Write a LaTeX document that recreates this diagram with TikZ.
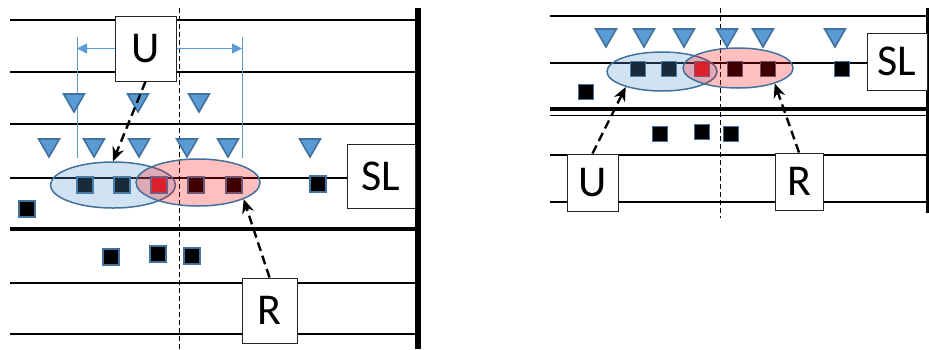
\documentclass[tikz,border=0pt]{standalone}
\usepackage{fontspec}
\setmainfont{Carlito}
\usetikzlibrary{shapes.geometric,arrows.meta}
\definecolor{cellblue}{HTML}{5B9BD5}
\definecolor{celledge}{HTML}{41719C}

\begin{document}
\begin{tikzpicture}[x=0.5pt,y=-0.5pt,
    lane/.style={line width=1pt},
    mid/.style={line width=0.5pt, dash pattern=on 2.5pt off 1.5pt},
    tag/.style={draw=black!85, line width=0.5pt, fill=white, inner sep=0pt,
      font=\fontsize{22pt}{22pt}\selectfont},
    bs/.style={regular polygon, regular polygon sides=3, shape border rotate=180,
      draw=celledge, fill=cellblue, line width=0.8pt, minimum size=12pt, inner sep=0pt},
    ue/.style={draw=celledge, fill=black, line width=0.75pt, minimum size=8pt, inner sep=0pt},
    zone/.style={ellipse, draw=celledge, line width=0.75pt, inner sep=0pt},
    span/.style={cellblue, line width=0.5pt},
    cue/.style={-{Stealth[length=7pt,width=6pt]}, dash pattern=on 4.5pt off 2.5pt, line width=1.2pt}]

  \useasboundingbox (0,0) rectangle (929,349);

  % left panel: lanes
  \foreach \y in {20,72,124,178,283,334}
    \draw[lane] (10,\y) -- (418,\y);
  \draw[line width=2.3pt] (10,229) -- (418,229);
  \draw[line width=3pt] (418,8) -- (418,349);
  \draw[mid] (179,8) -- (179,349);

  % right panel: lanes
  \foreach \y in {16,63,155,202}
    \draw[lane] (550,\y) -- (927,\y);
  \draw[line width=1.7pt] (550,109) -- (927,109);
  \draw[line width=0.5pt] (550,115) -- (927,115);
  \draw[line width=1.5pt] (927,8) -- (927,213);
  \draw[mid] (720,8) -- (720,218);

  % range of U
  \coordinate (sl) at (77,48.5);
  \coordinate (sr) at (242,48.5);
  \draw[span] (77,37) -- (77,158);
  \draw[span] (242,37) -- (242,158);

  % base stations
  \foreach \x [count=\i] in {74,138,199}
    \node[bs] (a\i) at (\x,100) {};
  \foreach \x [count=\i] in {49,94,139,187,228,310}
    \node[bs] (b\i) at (\x,145) {};
  \foreach \x [count=\i] in {606,644,684,727,763,835}
    \node[bs] (c\i) at (\x,35) {};

  % users, left
  \foreach \x/\y/\c [count=\i] in {85/185/black,122/185/black,159/185/red,196/185/black,
      234/185/black,318/184/black,27/209/black,111/257/black,158/254/black,192/256/black}
    \node[ue, fill=\c] (p\i) at (\x,\y) {};
  % users, right
  \foreach \x/\y/\c [count=\i] in {638/69/black,669/69/black,702/69/red,735/69/black,
      768/69/black,842/69/black,586/92/black,660/134/black,702/132/black,731/134/black}
    \node[ue, fill=\c, minimum size=7.5pt] (q\i) at (\x,\y) {};

  % clusters
  \node[zone, fill=cellblue, fill opacity=0.28, minimum width=62.5pt, minimum height=23pt] (bu1) at (113,185) {};
  \node[zone, fill=red, fill opacity=0.25, minimum width=62pt, minimum height=23.5pt] (rd1) at (198,182.5) {};
  \node[zone, fill=cellblue, fill opacity=0.28, minimum width=55pt, minimum height=19.5pt] (bu2) at (662,71.5) {};
  \node[zone, fill=red, fill opacity=0.25, minimum width=55pt, minimum height=20pt] (rd2) at (738,68) {};

  % labels
  \node[tag, minimum width=30.5pt, minimum height=32.5pt] (U1) at (145.5,48.5) {U};
  \node[tag, minimum width=34pt, minimum height=32pt] (SL1) at (381,176) {SL};
  \node[tag, minimum width=27.5pt, minimum height=32.5pt] (R1) at (269.5,310.5) {R};
  \node[tag, minimum width=25.5pt, minimum height=28.5pt] (U2) at (592.5,182.5) {U};
  \node[tag, minimum width=30pt, minimum height=28.5pt] (SL2) at (897,61.5) {SL};
  \node[tag, minimum width=24pt, minimum height=28.5pt] (R2) at (799,181.5) {R};

  \draw[span, -{Triangle[length=5pt,width=5pt]}] (U1.west) -- (sl);
  \draw[span, -{Triangle[length=5pt,width=5pt]}] (U1.east) -- (sr);

  \draw[cue] (U1.south) -- (bu1.north);
  \draw[cue] (R1.north) -- (rd1.-20);
  \draw[cue] (U2.north) -- (bu2.203);
  \draw[cue] (R2.north) -- (rd2.-23);
\end{tikzpicture}
\end{document}
